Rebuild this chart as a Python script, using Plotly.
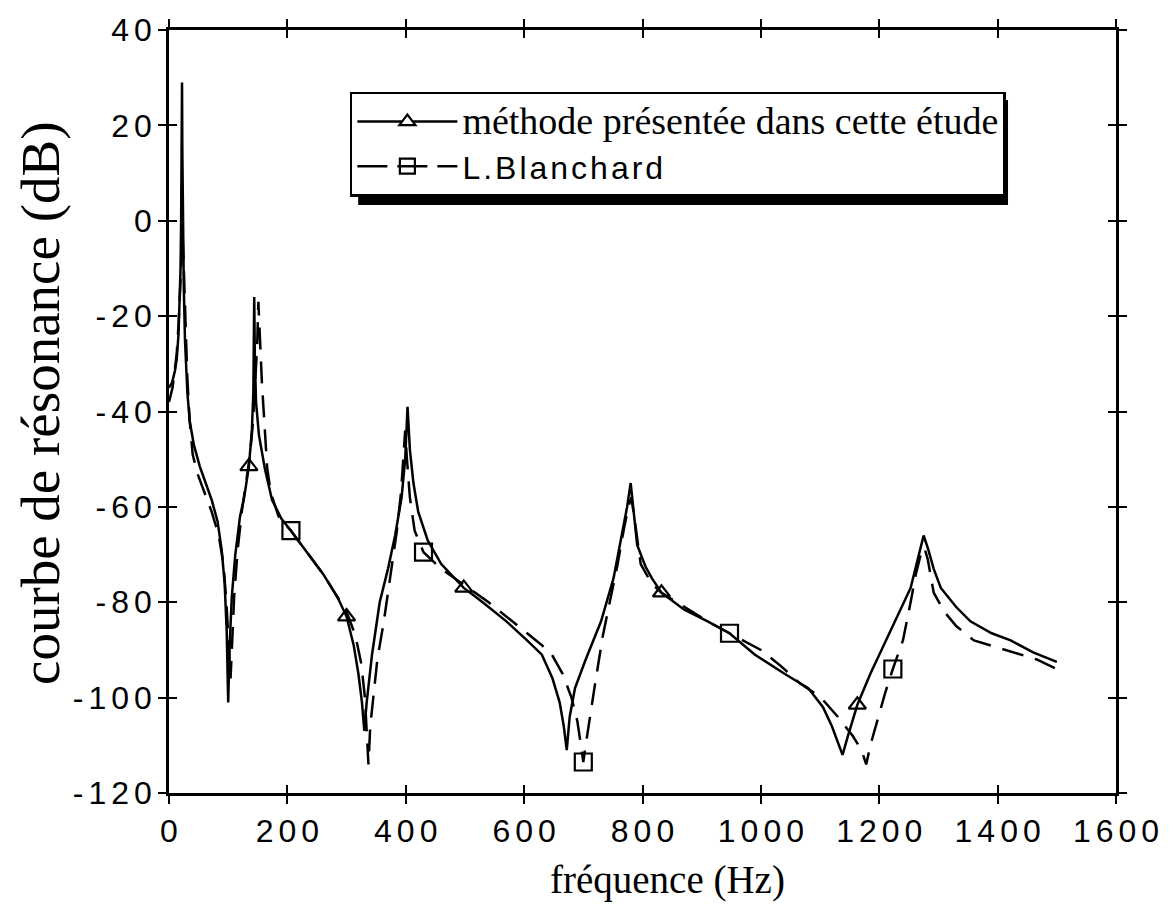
import plotly.graph_objects as go

# ---- data ----
freq_method = [0, 5, 10, 13, 16, 18, 19.5, 20.5, 21.5, 22, 22.5, 23.5, 25, 27, 31, 35, 42, 52, 62, 72,
               82, 89, 94, 97.5, 100, 102.5, 106, 112, 120, 127, 135, 140, 142.5, 143.5, 144, 145, 147,
               152, 162, 174, 190, 206, 230, 260, 285, 300, 312, 320, 326, 330, 334, 343, 356, 370,
               382, 393, 399, 403, 407, 413, 421, 437, 460, 482, 498, 530, 570, 605, 630, 648, 660,
               667, 672, 677, 686, 704, 730, 751, 766, 774, 780, 784, 791, 805, 816, 832, 870, 910,
               947, 990, 1040, 1080, 1105, 1120, 1130, 1138, 1146, 1155, 1163, 1185, 1208, 1230,
               1253, 1265, 1275, 1283, 1292, 1304, 1330, 1354, 1390, 1422, 1460, 1500]
db_method = [-35, -34, -31.5, -29, -24, -18, -10, 0, 15, 29, 15, 0, -14, -25, -36, -42, -47, -51.5, -55, -58.5,
             -63, -69, -76, -86, -101, -89, -79, -70, -62, -58, -51.5, -44, -36, -26, -16, -28, -38,
             -45, -52, -58.5, -62.5, -65, -69, -74, -79, -83, -89, -95, -101, -107, -101, -91, -80, -73,
             -66, -58, -50, -39, -48, -55, -61, -67, -72, -75, -77, -80, -84, -88, -91, -96, -101,
             -106, -111, -104, -98, -92, -84, -75, -65, -60, -55, -60, -68, -72.5, -75, -78, -81.5, -84,
             -86.5, -91, -95, -98, -102, -106, -109.5, -112, -108.5, -104.5, -101.5, -95, -89, -83,
             -77, -71, -66, -69, -73, -77, -81, -84, -86.5, -88, -90.5, -92.5]

freq_blanchard = [0, 6, 10, 13, 16, 19, 21, 23, 24.5, 26.5, 28.5, 31, 35, 40, 48, 60, 72, 84, 92, 97,
                  101, 104, 106.5, 110, 116, 123, 130, 137, 142, 146, 149, 151, 153, 157, 162, 166,
                  172, 185, 206, 230, 260, 285, 300, 315, 325, 331, 335, 337, 340, 345, 352, 363, 375,
                  385, 392, 396, 399, 402, 407, 415, 430, 460, 500, 540, 580, 610, 630, 647, 665, 680,
                  690, 696, 700, 704, 711, 720, 733, 745, 758, 768, 776, 781, 786, 797, 815, 832, 870,
                  910, 947, 1000, 1035, 1066, 1090, 1105, 1130, 1155, 1170, 1178, 1185, 1198, 1210,
                  1223, 1240, 1253, 1262, 1270, 1276, 1282, 1292, 1310, 1330, 1360, 1400, 1430, 1466,
                  1500]
db_blanchard = [-38, -35, -31, -28, -22, -14, -7, -3, -8, -16, -24, -33, -42, -49, -53, -57, -61, -66, -72, -80,
                -88, -96, -89, -79, -69, -61, -55, -49, -42, -34, -26, -17, -24, -34, -44, -52,
                -57, -62, -65, -69, -74, -79, -82, -87, -93, -100, -108, -114, -106, -100, -92, -84, -74,
                -65, -57, -50, -44, -50, -58, -65, -69.5, -73, -76.5, -80, -84, -87, -89, -91, -95, -100,
                -105, -110, -113.5, -110, -104, -97, -87, -80, -72, -65, -60, -58, -62, -72, -76, -78, -81,
                -84, -86.5, -90, -93.5, -97, -99, -100.5, -104, -108, -111, -114, -110, -104, -99,
                -94, -88, -80, -74, -70, -68.5, -71, -78, -82, -85, -88, -89.5, -90.5, -92,
                -94]

# marker positions
tri_x = [135, 300, 498, 832, 1163]
tri_y = [-51.5, -83, -77, -78, -101.5]
sq_x = [206, 430, 700, 947, 1223]
sq_y = [-65, -69.5, -113.5, -86.5, -94]

x_ticks = [0, 200, 400, 600, 800, 1000, 1200, 1400, 1600]
y_ticks = [-120, -100, -80, -60, -40, -20, 0, 20, 40]

name_method = "méthode présentée dans cette étude"
name_blanchard = "L.Blanchard"
x_title = "fréquence (Hz)"
y_title = "courbe de résonance (dB)"

SERIF = "Liberation Serif, Times New Roman, serif"
SANS = "Liberation Sans, Arial, Helvetica, sans-serif"


def spaced(t, ls=5):
    # letter-spaced tick label, no trailing space after the last character
    return f'<span style="letter-spacing:{ls}px">{t[:-1]}</span>{t[-1]}'


fig = go.Figure()

# curves
fig.add_trace(go.Scatter(x=freq_method, y=db_method, mode="lines",
                         line=dict(color="black", width=2.5), showlegend=False, hoverinfo="skip"))
fig.add_trace(go.Scatter(x=freq_blanchard, y=db_blanchard, mode="lines",
                         line=dict(color="black", width=2.5, dash="22px,12px"), showlegend=False,
                         hoverinfo="skip"))
# markers
fig.add_trace(go.Scatter(x=tri_x, y=tri_y, mode="markers",
                         marker=dict(symbol="triangle-up-open", size=15, color="black",
                                     line=dict(width=2.2, color="black")),
                         showlegend=False, hoverinfo="skip"))
fig.add_trace(go.Scatter(x=sq_x, y=sq_y, mode="markers",
                         marker=dict(symbol="square-open", size=17, color="black",
                                     line=dict(width=2.2, color="black")),
                         showlegend=False, hoverinfo="skip"))

# legend entries
fig.add_trace(go.Scatter(x=[None], y=[None], mode="lines+markers", xaxis="x2", yaxis="y2",
                         name=f'<span style="font-family:{SERIF};font-size:38px">{name_method}</span>',
                         line=dict(color="black", width=2.5),
                         marker=dict(symbol="triangle-up", size=14, color="white",
                                     line=dict(width=2.2, color="black"))))
fig.add_trace(go.Scatter(x=[None], y=[None], mode="lines+markers", xaxis="x2", yaxis="y2",
                         name=f'<span style="font-family:{SANS};font-size:32px;letter-spacing:3px">{name_blanchard}</span>',
                         line=dict(color="black", width=2.5, dash="30px,10px"),
                         marker=dict(symbol="square-open", size=15, color="black",
                                     line=dict(width=2.2, color="black"))))

tick_font = dict(family=SANS, size=32, color="black")
axis_common = dict(showgrid=False, zeroline=False, showline=True, linecolor="black", linewidth=2.5,
                   ticks="outside", ticklen=8, tickwidth=2, tickcolor="black", mirror="ticks")

fig.update_layout(
    width=1171, height=915,
    margin=dict(l=169, r=46, t=30, b=122),
    paper_bgcolor="white", plot_bgcolor="white",
    xaxis=dict(range=[0, 1600], tickvals=x_ticks, ticktext=[spaced(str(v)) for v in x_ticks],
               tickfont=tick_font, ticklabelstandoff=0, **axis_common),
    yaxis=dict(range=[-120, 40], tickvals=y_ticks, ticktext=[spaced(str(v)) for v in y_ticks],
               tickfont=tick_font, **axis_common),
    xaxis2=dict(range=[0, 1600], overlaying="x", anchor="y2", tickvals=x_ticks, showticklabels=False,
                showgrid=False, zeroline=False, showline=False, ticks="inside", ticklen=8, tickwidth=2,
                tickcolor="black", mirror="ticks"),
    yaxis2=dict(range=[-120, 40], overlaying="y", anchor="x2", tickvals=y_ticks, showticklabels=False,
                showgrid=False, zeroline=False, showline=False, ticks="inside", ticklen=8, tickwidth=2,
                tickcolor="black", mirror="ticks"),
    legend=dict(x=0.191, y=0.919, xanchor="left", yanchor="top", bgcolor="white",
                bordercolor="black", borderwidth=2.5, font=dict(family=SERIF, size=32, color="black"),
                itemwidth=100, traceorder="normal"),
    annotations=[
        dict(text=x_title, xref="paper", yref="paper", x=0.526, y=-0.114, xanchor="center",
             yanchor="middle", showarrow=False, font=dict(family=SERIF, size=39, color="black")),
        dict(text=y_title, xref="paper", yref="paper", x=-0.135, y=0.51, xanchor="center",
             yanchor="middle", textangle=-90, showarrow=False,
             font=dict(family=SERIF, size=55, color="black")),
    ],
    shapes=[dict(type="rect", xref="paper", yref="paper",
                 x0=(360 - 169) / 956, x1=(1016 - 169) / 956,
                 y0=(793 - 205) / 763, y1=(793 - 100) / 763,
                 fillcolor="black", line=dict(width=0), layer="above")],
)

fig.write_html("out.html", config={"displayModeBar": False},
               post_script="document.body.style.margin='0';")
